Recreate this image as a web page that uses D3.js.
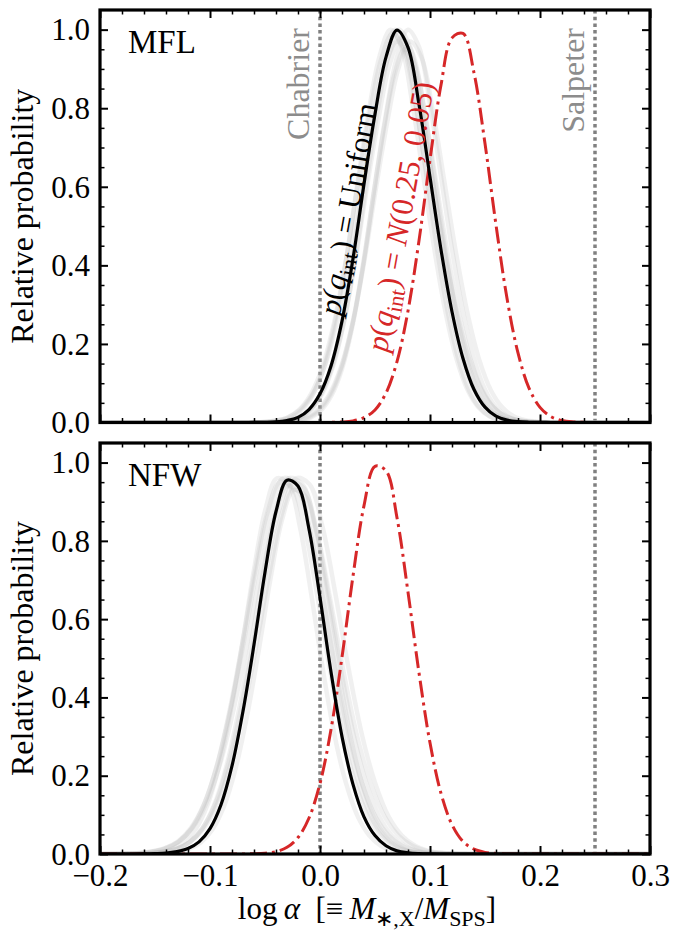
<!DOCTYPE html>
<meta charset="utf-8">
<style>
body { margin: 0; background: #fff; }
text, tspan { font-family: "Liberation Serif", "Times New Roman", serif; }
.frame { fill: none; stroke: #000; stroke-width: 3.2px; }
.tick line { stroke: #000; }
.tick text { font-size: 31px; fill: #000; }
.imf { stroke: #808080; stroke-width: 3.5px; stroke-dasharray: 3.5 3.2; }
.imf-label { font-size: 32px; fill: #8c8c8c; }
.sample { fill: none; stroke: #b4b4b4; stroke-opacity: 0.2; stroke-width: 4.5px; }
.uniform { fill: none; stroke: #000; stroke-width: 3.2px; }
.prior { fill: none; stroke: #d62728; stroke-width: 3px; stroke-dasharray: 17 5 3 5; }
</style>
<svg width="685" height="933"></svg>
<script src="https://d3js.org/d3.v7.min.js"></script>
<script>

// log alpha grid shared by all curves
var alphaGrid = [-0.20, -0.19, -0.18, -0.17, -0.16, -0.15, -0.14, -0.13, -0.12, -0.11,
                 -0.10, -0.09, -0.08, -0.07, -0.06, -0.05, -0.04, -0.03, -0.02, -0.01,
                  0.00,  0.01,  0.02,  0.03,  0.04,  0.05,  0.06,  0.07,  0.08,  0.09,
                  0.10,  0.11,  0.12,  0.13,  0.14,  0.15,  0.16,  0.17,  0.18,  0.19,
                  0.20,  0.21,  0.22,  0.23,  0.24,  0.25,  0.26,  0.27,  0.28,  0.29, 0.30];

// MFL panel
var mflUniform = [0, 0, 0, 0, 0, 0, 0, 0, 0, 0,
                  0, 0, 0, 0, 0.0001, 0.0005, 0.0016, 0.005, 0.013, 0.033,
                  0.073, 0.144, 0.258, 0.417, 0.607, 0.785, 0.93, 0.999, 0.955, 0.81,
                  0.625, 0.44, 0.282, 0.163, 0.084, 0.039, 0.016, 0.006, 0.002, 0.0006,
                  0.0002, 0, 0, 0, 0, 0, 0, 0, 0, 0, 0];
var mflPrior = [0, 0, 0, 0, 0, 0, 0, 0, 0, 0,
                0, 0, 0, 0, 0, 0, 0, 0, 0, 0,
                0, 0.0003, 0.0013, 0.0042, 0.0123, 0.032, 0.075, 0.155, 0.284, 0.463,
                0.669, 0.859, 0.979, 0.9905, 0.89, 0.71, 0.503, 0.316, 0.177, 0.0876,
                0.0386, 0.015, 0.0052, 0.0016, 0.0004, 0, 0, 0, 0, 0, 0];
var mflPeakAlpha = 0.071;
// individual posterior draws (grey), relative to the best-fit curve
var mflShifts  = [-0.006, -0.004, -0.002, 0.000, 0.002, 0.004, 0.007, 0.010, 0.012];
var mflHeights = [1.00, 0.99, 1.00, 0.97, 1.00, 0.98, 0.95, 1.00, 0.97];
var mflWidths  = [1.00, 1.06, 0.96, 1.10, 1.00, 1.05, 0.95, 1.00, 1.05];

// NFW panel
var nfwUniform = [0, 0, 0, 0, 0.0002, 0.0008, 0.002, 0.006, 0.014, 0.031,
                  0.065, 0.126, 0.225, 0.365, 0.535, 0.72, 0.875, 0.955, 0.94, 0.83,
                  0.655, 0.465, 0.30, 0.178, 0.095, 0.047, 0.021, 0.008, 0.003, 0.001,
                  0.0003, 0, 0, 0, 0, 0, 0, 0, 0, 0,
                  0, 0, 0, 0, 0, 0, 0, 0, 0, 0, 0];
var nfwPrior = [0, 0, 0, 0, 0, 0, 0, 0, 0, 0,
                0, 0, 0, 0.0002, 0.0006, 0.002, 0.006, 0.017, 0.042, 0.092,
                0.180, 0.318, 0.503, 0.71, 0.89, 0.9905, 0.979, 0.859, 0.669, 0.463,
                0.284, 0.155, 0.075, 0.032, 0.0123, 0.0042, 0.0013, 0.0003, 0, 0,
                0, 0, 0, 0, 0, 0, 0, 0, 0, 0, 0];
var nfwPeakAlpha = -0.027;
var nfwShifts  = [-0.009, -0.006, -0.003, 0.000, 0.002, 0.004, 0.006, 0.009];
var nfwHeights = [0.96, 0.95, 0.96, 0.94, 0.96, 0.95, 0.93, 0.96];
var nfwWidths  = [1.05, 1.15, 1.20, 1.10, 1.25, 1.15, 1.05, 1.20];

var imfNames  = ["Chabrier", "Salpeter"];
var imfAlphas = [0.0, 0.25];

var xMajor = [-0.2, -0.1, 0.0, 0.1, 0.2, 0.3];
var yMajor = [0.0, 0.2, 0.4, 0.6, 0.8, 1.0];

var width = 685, height = 933;
var left = 100, right = 650;
var panels = [
  {name: "MFL", top: 10,  bottom: 422.5, uniform: mflUniform, prior: mflPrior,
   peak: mflPeakAlpha, shifts: mflShifts, heights: mflHeights, widths: mflWidths,
   xLabels: false, notes: true},
  {name: "NFW", top: 443, bottom: 854, uniform: nfwUniform, prior: nfwPrior,
   peak: nfwPeakAlpha, shifts: nfwShifts, heights: nfwHeights, widths: nfwWidths,
   xLabels: true, notes: false}
];

var svg = d3.select("svg");

var x = d3.scaleLinear().domain([-0.2, 0.3]).range([left, right]);
var xMinor = d3.range(-0.2, 0.3001, 0.02).filter(function(v) {
  return Math.abs(v * 10 - Math.round(v * 10)) > 1e-6;
});
var yMinor = d3.range(0, 1.0001, 0.05).filter(function(v) {
  return Math.abs(v * 5 - Math.round(v * 5)) > 1e-6;
});
var fmt = d3.format(".1f");

panels.forEach(function(p, i) {
  var y = d3.scaleLinear().domain([0, 1.05]).range([p.bottom, p.top]);
  var g = svg.append("g");

  var line = d3.line()
      .x(function(d) { return x(d[0]); })
      .y(function(d) { return y(d[1]); })
      .curve(d3.curveCatmullRom.alpha(0.5));

  g.append("clipPath").attr("id", "clip" + i)
    .append("rect")
      .attr("x", left).attr("y", p.top)
      .attr("width", right - left).attr("height", p.bottom - p.top);

  var plot = g.append("g").attr("clip-path", "url(#clip" + i + ")");

  // IMF reference lines
  plot.selectAll(".imf")
      .data(imfAlphas)
    .enter().append("line")
      .attr("class", "imf")
      .attr("x1", x).attr("x2", x)
      .attr("y1", p.top).attr("y2", p.bottom);

  var best = d3.max(p.uniform);
  var samples = p.shifts.map(function(s, k) {
    return alphaGrid.map(function(a, j) {
      return [p.peak + (a - p.peak) * p.widths[k] + s, p.uniform[j] * p.heights[k] / best];
    });
  });

  plot.selectAll(".sample")
      .data(samples)
    .enter().append("path")
      .attr("class", "sample")
      .attr("d", line);

  plot.append("path")
      .datum(d3.zip(alphaGrid, p.prior))
      .attr("class", "prior")
      .attr("d", line);

  plot.append("path")
      .datum(d3.zip(alphaGrid, p.uniform))
      .attr("class", "uniform")
      .attr("d", line);

  // ticks on all four sides, pointing inwards
  function ticks(axis, vals, len, w, labels, tx) {
    var a = axis.tickValues(vals).tickSize(-len).tickPadding(10)
        .tickFormat(labels ? fmt : "");
    var t = g.append("g").attr("transform", tx).call(a)
        .attr("font-family", null).attr("font-size", null);
    t.select(".domain").remove();
    t.selectAll("line").style("stroke-width", w);
    return t;
  }
  ticks(d3.axisBottom(x), xMinor, 4.5, 1.5, false, "translate(0," + p.bottom + ")");
  ticks(d3.axisTop(x), xMinor, 4.5, 1.5, false, "translate(0," + p.top + ")");
  ticks(d3.axisLeft(y), yMinor, 4.5, 1.5, false, "translate(" + left + ",0)");
  ticks(d3.axisRight(y), yMinor, 4.5, 1.5, false, "translate(" + right + ",0)");
  ticks(d3.axisBottom(x), xMajor, 8, 2, p.xLabels, "translate(0," + p.bottom + ")");
  ticks(d3.axisTop(x), xMajor, 8, 2, false, "translate(0," + p.top + ")");
  ticks(d3.axisLeft(y), yMajor, 8, 2, true, "translate(" + left + ",0)")
    .selectAll("text").attr("dy", "0.33em");
  ticks(d3.axisRight(y), yMajor, 8, 2, false, "translate(" + right + ",0)");

  g.append("rect")
      .attr("class", "frame")
      .attr("x", left).attr("y", p.top)
      .attr("width", right - left).attr("height", p.bottom - p.top);

  g.append("text")
      .attr("x", left + 28).attr("y", p.top + 43)
      .style("font-size", "33px")
      .text(p.name);

  g.append("text")
      .attr("transform", "translate(33," + (p.top + p.bottom) / 2 + ") rotate(-90)")
      .attr("text-anchor", "middle")
      .style("font-size", "32px")
      .text("Relative probability");

  if (p.notes) {
    g.selectAll(".imf-label")
        .data(imfNames)
      .enter().append("text")
        .attr("class", "imf-label")
        .attr("text-anchor", "end")
        .attr("transform", function(d, k) {
          return "translate(" + (x(imfAlphas[k]) - 11) + "," + (p.top + 18) + ") rotate(-90)";
        })
        .text(function(d) { return d; });

    var notes = [
      {at: [0.018, 0.27], color: "#000", rhs: [["", "Uniform"]]},
      {at: [0.061, 0.177], color: "#d62728", rhs: [["italic", "N"], ["", "(0.25, 0.05)"]]}
    ];
    notes.forEach(function(n) {
      var t = g.append("text")
          .attr("transform", "translate(" + x(n.at[0]) + "," + y(n.at[1]) + ") rotate(-80)")
          .style("font-size", "31px")
          .style("fill", n.color);
      t.append("tspan").style("font-style", "italic").text("p");
      t.append("tspan").text("(");
      t.append("tspan").style("font-style", "italic").text("q");
      t.append("tspan").attr("dy", 7).style("font-size", "22px").text("int");
      t.append("tspan").attr("dy", -7).text(") = ");
      n.rhs.forEach(function(r) {
        t.append("tspan").style("font-style", r[0] || null).text(r[1]);
      });
    });
  }
});

// x label
var xl = svg.append("text")
    .attr("x", (left + right) / 2 - 8)
    .attr("y", 919)
    .attr("text-anchor", "middle")
    .style("font-size", "31px");
xl.append("tspan").text("log\u2009");
xl.append("tspan").style("font-style", "italic").text("\u03b1");
xl.append("tspan").text("\u2002[\u2261\u2009");
xl.append("tspan").style("font-style", "italic").text("M");
xl.append("tspan").attr("dy", 7).style("font-size", "22px").text("\u2217,X");
xl.append("tspan").attr("dy", -7).text("/");
xl.append("tspan").style("font-style", "italic").text("M");
xl.append("tspan").attr("dy", 7).style("font-size", "22px").text("SPS");
xl.append("tspan").attr("dy", -7).text("]");

</script>
